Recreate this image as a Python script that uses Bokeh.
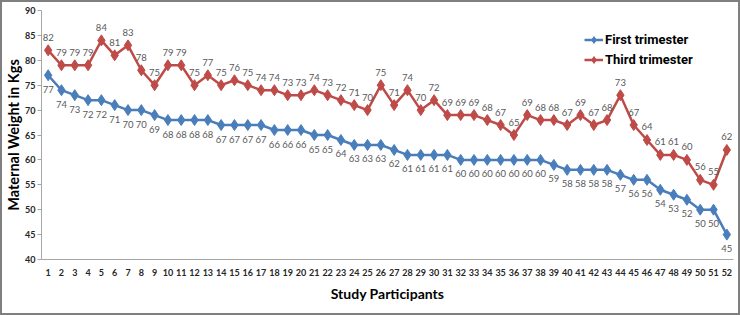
from bokeh.plotting import figure
from bokeh.models import ColumnDataSource, FixedTicker, Legend, LegendItem
from bokeh.core.properties import value
from bokeh.embed import file_html
from bokeh.resources import INLINE

participants = list(range(1, 53))
first_trimester = [77, 74, 73, 72, 72, 71, 70, 70, 69, 68, 68, 68, 68, 67, 67, 67, 67, 66, 66, 66,
                   65, 65, 64, 63, 63, 63, 62, 61, 61, 61, 61, 60, 60, 60, 60, 60, 60, 60, 59, 58,
                   58, 58, 58, 57, 56, 56, 54, 53, 52, 50, 50, 45]
third_trimester = [82, 79, 79, 79, 84, 81, 83, 78, 75, 79, 79, 75, 77, 75, 76, 75, 74, 74, 73, 73,
                   74, 73, 72, 71, 70, 75, 71, 74, 70, 72, 69, 69, 69, 68, 67, 65, 69, 68, 68, 67,
                   69, 67, 68, 73, 67, 64, 61, 61, 60, 56, 55, 62]
y_ticks = [40, 45, 50, 55, 60, 65, 70, 75, 80, 85, 90]

BLUE = "#4A7EBB"
RED = "#BE4B48"

src = ColumnDataSource(dict(
    x=participants,
    first=first_trimester,
    third=third_trimester,
    first_lbl=[str(v) for v in first_trimester],
    third_lbl=[str(v) for v in third_trimester],
))

p = figure(width=740, height=315, output_backend="svg", toolbar_location=None,
           x_range=(0.5, 52.5), y_range=(40, 90),
           min_border_left=37, min_border_right=9, min_border_top=8, min_border_bottom=58)
p.styles = {"border": "2px solid #7F7F7F", "box-sizing": "border-box"}
p.outline_line_color = None
p.xgrid.grid_line_color = None
p.ygrid.grid_line_color = None
p.background_fill_color = "white"
p.border_fill_color = "white"

# axes
p.xaxis.ticker = FixedTicker(ticks=participants)
p.yaxis.ticker = FixedTicker(ticks=y_ticks)
for ax in (p.xaxis[0], p.yaxis[0]):
    ax.axis_line_color = "#A6A6A6"
    ax.major_tick_line_color = "#A6A6A6"
    ax.minor_tick_line_color = None
    ax.major_label_text_font = "Lato"
    ax.major_label_text_font_style = "bold"
    ax.major_label_text_font_size = "9px"
    ax.major_label_text_color = "#262626"
    ax.axis_label_text_font = "Lato"
    ax.axis_label_text_font_style = "bold"
    ax.axis_label_text_color = "#000000"
p.xaxis.major_tick_out = 0
p.xaxis.major_tick_in = 0
p.xaxis.major_label_standoff = 9
p.xaxis.axis_label = "Study Participants"
p.xaxis.axis_label_text_font_size = "14px"
p.xaxis.axis_label_standoff = 6
p.yaxis.major_tick_out = 4
p.yaxis.major_tick_in = 0
p.yaxis.major_label_standoff = 2
p.yaxis.axis_label = "Maternal Weight in Kgs"
p.yaxis.axis_label_text_font_size = "14.5px"
p.yaxis.axis_label_standoff = 0

# series
l1 = p.line("x", "first", source=src, line_color=BLUE, line_width=2.5)
m1 = p.scatter("x", "first", source=src, marker="diamond", size=11, fill_color=BLUE, line_color=BLUE)
l2 = p.line("x", "third", source=src, line_color=RED, line_width=2.5)
m2 = p.scatter("x", "third", source=src, marker="diamond", size=11, fill_color=RED, line_color=RED)

# data labels
p.text("x", "first", text="first_lbl", source=src, y_offset=14, text_align="center",
       text_baseline="middle", text_font=value("Lato"), text_font_size="9.5px", text_color="#595959")
p.text("x", "third", text="third_lbl", source=src, y_offset=-13, text_align="center",
       text_baseline="middle", text_font=value("Lato"), text_font_size="9.5px", text_color="#595959")

legend = Legend(items=[LegendItem(label="First trimester", renderers=[l1, m1]),
                       LegendItem(label="Third trimester", renderers=[l2, m2])],
                location=(543, 191), orientation="vertical",
                background_fill_alpha=0, border_line_color=None,
                padding=0, margin=0, spacing=3,
                glyph_width=19, glyph_height=17, label_height=17, label_standoff=2,
                label_text_font="Roboto", label_text_font_style="bold",
                label_text_font_size="13px", label_text_color="#000000")
p.add_layout(legend, "center")

open("out.html", "w").write(file_html(p, INLINE))
